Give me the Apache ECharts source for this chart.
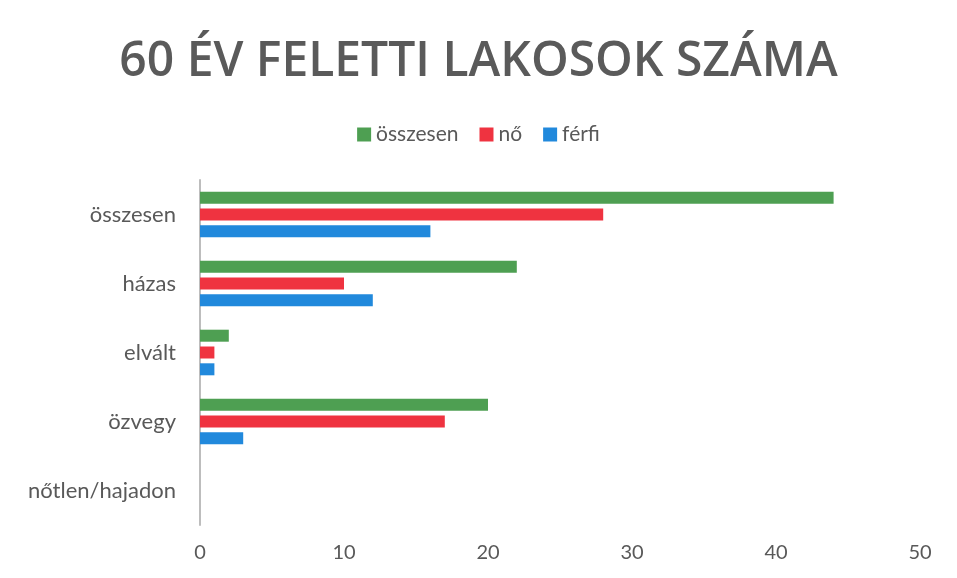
<!DOCTYPE html>
<html>
<head>
<meta charset="utf-8">
<script src="https://cdn.jsdelivr.net/npm/echarts@6/dist/echarts.min.js"></script>
<style>
  html, body { margin: 0; padding: 0; background: #fff; }
  #chart { width: 957px; height: 578px; }
</style>
</head>
<body>
<div id="chart"></div>
<script>
const categories = ['összesen', 'házas', 'elvált', 'özvegy', 'nőtlen/hajadon'];
const seriesNames = ['összesen', 'nő', 'férfi'];
const osszesen = [44, 22, 2, 20, 0];
const no = [28, 10, 1, 17, 0];
const ferfi = [16, 12, 1, 3, 0];
const colors = ['#4e9f52', '#ef3340', '#2189dc'];

const chart = echarts.init(document.getElementById('chart'));
const font = 'Lato, "Open Sans", sans-serif';

const makeSeries = (name, data, color) => ({
  name: name,
  type: 'bar',
  data: data,
  barWidth: 12,
  barGap: '40%',
  itemStyle: { color: color },
});

chart.setOption({
  animation: false,
  backgroundColor: '#fff',
  title: {
    text: '60 ÉV FELETTI LAKOSOK SZÁMA',
    left: 'center',
    top: 33,
    textStyle: {
      fontFamily: '"Open Sans", sans-serif',
      fontSize: 48,
      fontWeight: 600,
      color: '#5a5a5a',
    },
  },
  legend: {
    top: 119,
    left: 'center',
    itemWidth: 14,
    itemHeight: 14,
    itemGap: 21,
    icon: 'rect',
    textStyle: { fontFamily: font, fontSize: 21, color: '#595959' },
    data: seriesNames,
  },
  grid: { left: 200, right: 37, top: 180, bottom: 53, containLabel: false },
  xAxis: {
    type: 'value',
    min: 0,
    max: 50,
    interval: 10,
    axisLine: { show: false },
    axisTick: { show: false },
    splitLine: { show: false },
    axisLabel: { fontFamily: font, fontSize: 20, color: '#595959', margin: 18 },
  },
  yAxis: {
    type: 'category',
    data: categories,
    inverse: true,
    axisLine: { show: true, lineStyle: { color: '#bdbdbd', width: 2 } },
    axisTick: { show: false },
    axisLabel: { fontFamily: font, fontSize: 22, color: '#595959', margin: 24 },
  },
  series: [
    makeSeries(seriesNames[0], osszesen, colors[0]),
    makeSeries(seriesNames[1], no, colors[1]),
    makeSeries(seriesNames[2], ferfi, colors[2]),
  ],
});
</script>
</body>
</html>
